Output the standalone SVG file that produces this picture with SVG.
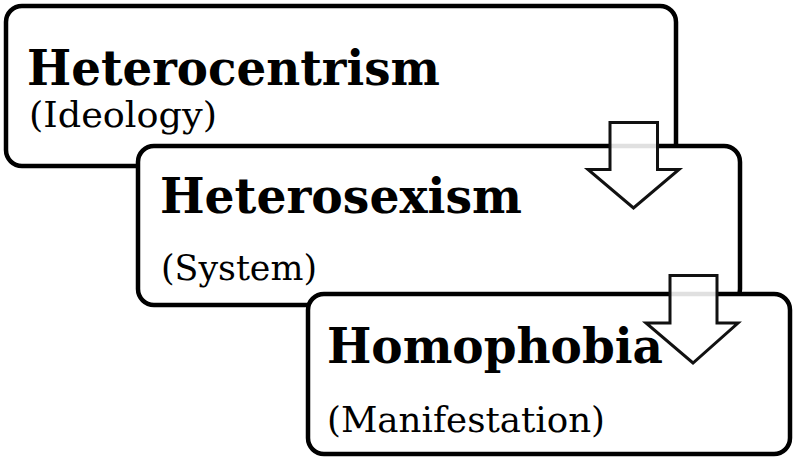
<svg xmlns="http://www.w3.org/2000/svg" width="793" height="457" viewBox="0 0 793 457">
<style>
.box{fill:#fff;stroke:#000;stroke-width:4.5}
.arrow{fill:#fff;fill-opacity:0.88;stroke:#111;stroke-width:3;stroke-linejoin:miter}
.title{font-family:"DejaVu Serif","Liberation Serif",serif;font-weight:bold;font-size:48px;fill:#000}
.sub{font-family:"DejaVu Serif","Liberation Serif",serif;font-size:36px;fill:#000}
</style>
<rect width="793" height="457" fill="#fff"/>
<g id="node-heterocentrism">
<rect class="box" x="6" y="6" width="670" height="160" rx="16"/>
<text class="title" x="27" y="85" textLength="413" lengthAdjust="spacingAndGlyphs">Heterocentrism</text>
<text class="sub" x="29" y="127" textLength="188" lengthAdjust="spacingAndGlyphs">(Ideology)</text>
</g>
<g id="node-heterosexism">
<rect class="box" x="138" y="146" width="602" height="159" rx="16"/>
<text class="title" x="160" y="213" textLength="362" lengthAdjust="spacingAndGlyphs">Heterosexism</text>
<text class="sub" x="161" y="280" textLength="156" lengthAdjust="spacingAndGlyphs">(System)</text>
</g>
<g id="node-homophobia">
<rect class="box" x="308" y="294" width="482" height="160" rx="16"/>
<text class="title" x="327" y="363" textLength="336" lengthAdjust="spacingAndGlyphs">Homophobia</text>
<text class="sub" x="327" y="432" textLength="278" lengthAdjust="spacingAndGlyphs">(Manifestation)</text>
</g>
<g id="connectors">
<polygon class="arrow" points="610,122.5 657.5,122.5 657.5,169.5 679,169.5 633.5,208 588,169.5 610,169.5"/>
<polygon class="arrow" points="670,275.5 717,275.5 717,323 738,323 693,363 646,323 670,323"/>
</g>
</svg>
